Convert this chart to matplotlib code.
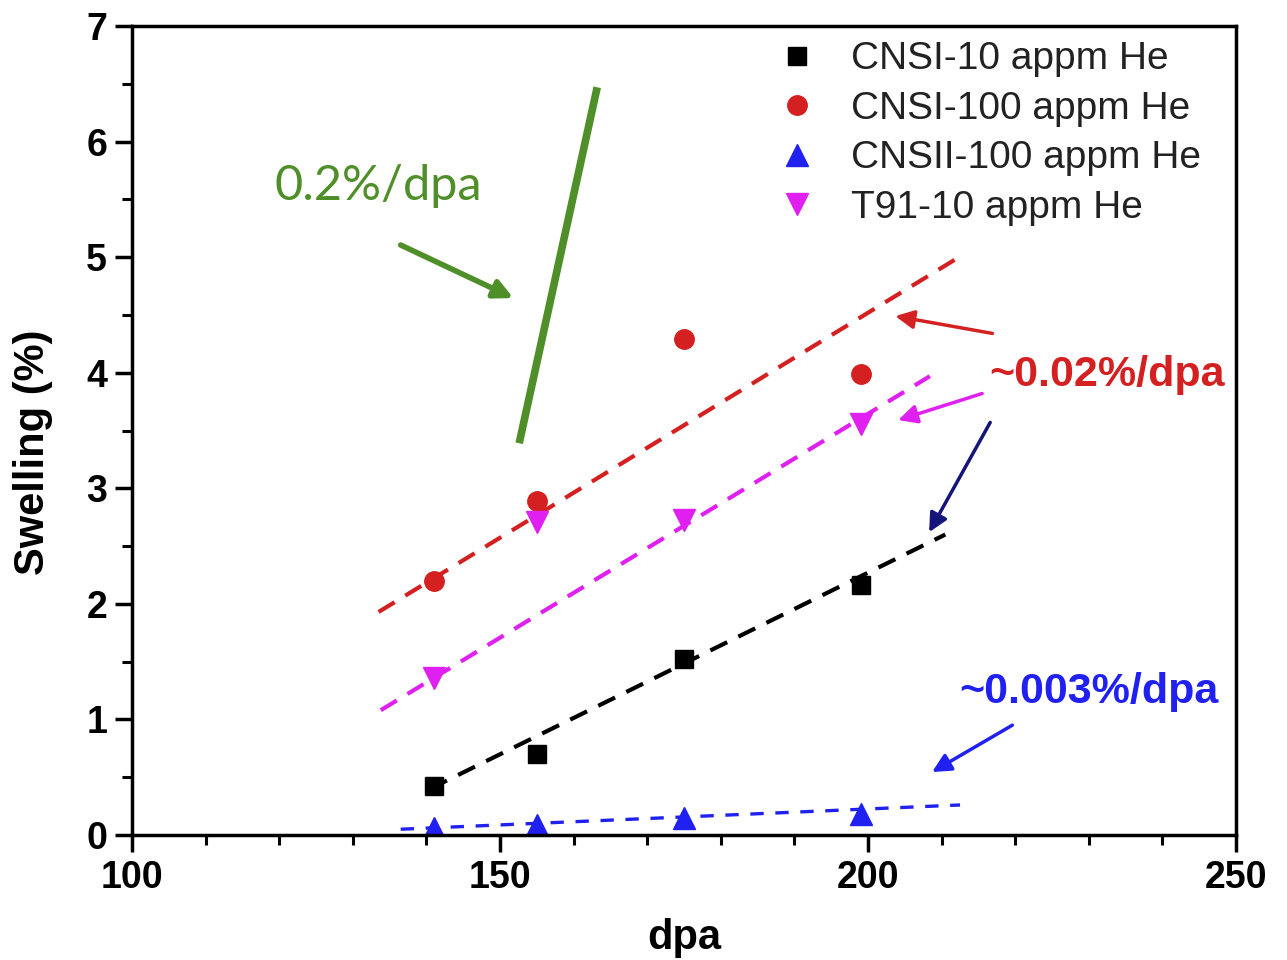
import matplotlib
matplotlib.use("Agg")
import matplotlib.pyplot as plt
from matplotlib.ticker import MultipleLocator

plt.rcParams['font.family'] = ['Liberation Sans', 'DejaVu Sans']

# data
dpa = [141, 155, 175, 199]
cnsi_10 = [0.42, 0.70, 1.52, 2.16]
cnsi_100 = [2.20, 2.89, 4.29, 3.99]
cnsii_100 = [0.06, 0.09, 0.15, 0.18]
t91_10 = [1.36, 2.71, 2.73, 3.56]

# fit lines (end points)
fit_cnsi_10_x = [140.5, 210.5]
fit_cnsi_10_y = [0.40, 2.60]
fit_cnsi_100_x = [133.5, 212.1]
fit_cnsi_100_y = [1.93, 4.99]
fit_cnsii_100_x = [136.5, 212.5]
fit_cnsii_100_y = [0.05, 0.26]
fit_t91_10_x = [133.8, 208.4]
fit_t91_10_y = [1.08, 3.97]
ref_x = [152.6, 163.2]
ref_y = [3.39, 6.47]

labels = ['CNSI-10 appm He', 'CNSI-100 appm He', 'CNSII-100 appm He', 'T91-10 appm He']

RED = '#d42020'
MAG = '#e020f0'
BLUE = '#2020f0'
GREEN = '#4f8f2a'

fig = plt.figure(figsize=(12.87, 9.6), dpi=100)
ax = fig.add_axes([0.1026, 0.1302, 0.8578, 0.8427])

ax.plot(fit_cnsi_100_x, fit_cnsi_100_y, ls=(0, (4.5, 3)), color=RED, lw=3)
ax.plot(fit_t91_10_x, fit_t91_10_y, ls=(0, (4.5, 3)), color=MAG, lw=3)
ax.plot(fit_cnsi_10_x, fit_cnsi_10_y, ls=(0, (4.5, 3)), color='black', lw=3)
ax.plot(fit_cnsii_100_x, fit_cnsii_100_y, ls=(0, (4, 3.5)), color=BLUE, lw=2.4)
ax.plot(ref_x, ref_y, color=GREEN, lw=5.5, solid_capstyle='butt')

ax.plot(dpa, cnsi_10, 's', color='black', ms=13, ls='none', label=labels[0])
ax.plot(dpa, cnsi_100, 'o', color=RED, ms=14, ls='none', label=labels[1])
ax.plot(dpa, cnsii_100, '^', color=BLUE, ms=16, ls='none', label=labels[2])
ax.plot(dpa, t91_10, 'v', color=MAG, ms=16, ls='none', label=labels[3])

arrow = lambda c, lw: dict(arrowstyle='-|>', color=c, lw=lw, mutation_scale=28, shrinkA=0, shrinkB=0)
ax.annotate('', xy=(151.8, 4.646), xytext=(136.5, 5.105), arrowprops=arrow(GREEN, 4))
ax.annotate('', xy=(203.7, 4.49), xytext=(216.9, 4.34), arrowprops=arrow(RED, 2.5))
ax.annotate('', xy=(204.1, 3.59), xytext=(215.5, 3.82), arrowprops=arrow(MAG, 2.5))
ax.annotate('', xy=(208.3, 2.62), xytext=(216.6, 3.57), arrowprops=arrow('#14147a', 2.5))
ax.annotate('', xy=(208.7, 0.545), xytext=(219.6, 0.95), arrowprops=arrow(BLUE, 2.5))

ax.text(133.4, 5.62, '0.2%/dpa', color=GREEN, fontsize=35, family=['Lato', 'DejaVu Sans'],
        ha='center', va='center')
ax.text(232.4, 3.98, '~0.02%/dpa', color=RED, fontsize=31, fontweight='bold',
        ha='center', va='center')
ax.text(230.0, 1.24, '~0.003%/dpa', color=BLUE, fontsize=31, fontweight='bold',
        ha='center', va='center')

ax.set_xlim(100, 250)
ax.set_ylim(0, 7)
ax.xaxis.set_major_locator(MultipleLocator(50))
ax.xaxis.set_minor_locator(MultipleLocator(10))
ax.yaxis.set_major_locator(MultipleLocator(1))
ax.yaxis.set_minor_locator(MultipleLocator(0.5))
ax.tick_params(which='major', direction='out', length=12, width=2.5, labelsize=27, pad=6)
ax.tick_params(which='minor', direction='out', length=7, width=2.2)
ax.tick_params(top=False, right=False, which='both')
for lab in ax.get_xticklabels() + ax.get_yticklabels():
    lab.set_fontweight('bold')
for s in ax.spines.values():
    s.set_linewidth(2.5)

ax.set_xlabel('dpa', fontsize=30, fontweight='bold')
ax.set_ylabel('Swelling (%)', fontsize=30, fontweight='bold')
ax.xaxis.set_label_coords(0.5, -0.103)
ax.yaxis.set_label_coords(-0.072, 0.473)

leg = ax.legend(loc='upper left', bbox_to_anchor=(0.576, 0.981), frameon=False, fontsize=28,
                handletextpad=0.63, labelspacing=0.345, handlelength=1.5,
                borderaxespad=0, borderpad=0)
for t in leg.get_texts():
    t.set_color('#222222')

fig.savefig('out.png', dpi=100)
